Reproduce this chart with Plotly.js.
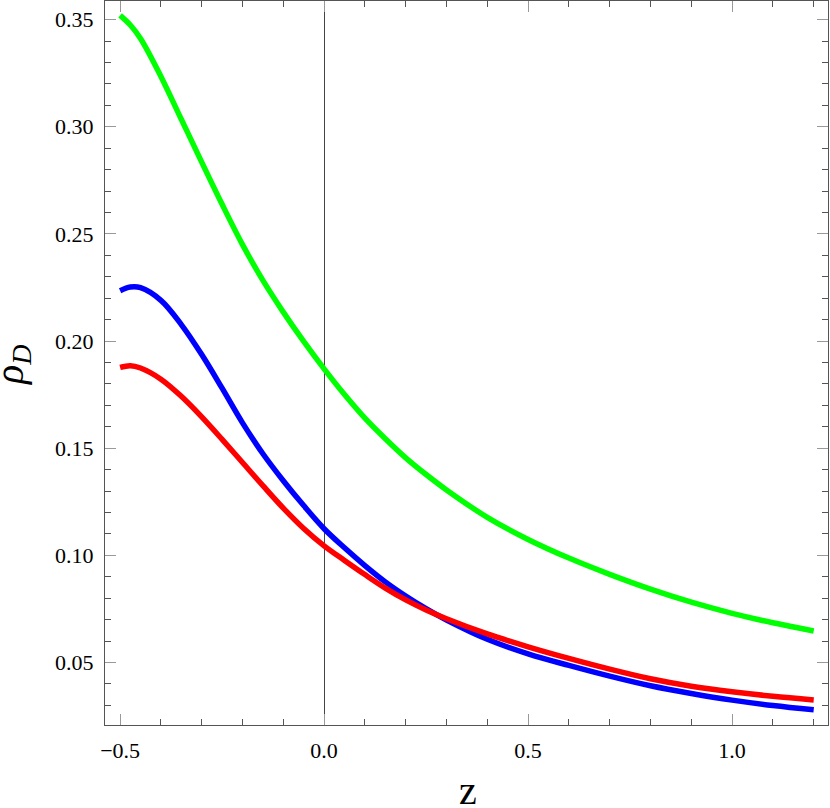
<!DOCTYPE html>
<html>
<head>
<meta charset="utf-8">
<script src="https://cdn.plot.ly/plotly-3.0.1.min.js"></script>
<style>
  html, body { margin: 0; padding: 0; background: #fff; }
  #plot { width: 830px; height: 808px; }
</style>
</head>
<body>
<div id="plot"></div>
<script>
// redshift grid, shared by the three curves
const z = [-0.5, -0.475, -0.45, -0.4, -0.35, -0.3, -0.25, -0.2, -0.15, -0.1, -0.05,
           0, 0.05, 0.1, 0.15, 0.2, 0.25, 0.3,
           0.4, 0.5, 0.6, 0.7, 0.8, 0.9, 1.0, 1.1, 1.2];

// rho_D values
const rhoGreen = [0.3520, 0.3475, 0.3412, 0.3235, 0.3035, 0.2835, 0.2638, 0.2450, 0.2283, 0.2135, 0.1998,
                  0.1870, 0.1750, 0.1640, 0.1544, 0.1455, 0.1377, 0.1305,
                  0.1177, 0.1074, 0.0987, 0.0911, 0.0842, 0.0781, 0.0729, 0.0685, 0.0647];
const rhoBlue  = [0.2235, 0.2252, 0.2249, 0.2190, 0.2077, 0.1937, 0.1780, 0.1618, 0.1474, 0.1348, 0.1232,
                  0.1124, 0.1035, 0.0952, 0.0876, 0.0810, 0.0751, 0.0698,
                  0.0608, 0.0540, 0.0486, 0.0436, 0.0391, 0.0355, 0.0324, 0.0299, 0.0279];
const rhoRed   = [0.1877, 0.1885, 0.1874, 0.1822, 0.1742, 0.1646, 0.1541, 0.1433, 0.1325, 0.1220, 0.1125,
                  0.1044, 0.0976, 0.0910, 0.0847, 0.0792, 0.0745, 0.0704,
                  0.0633, 0.0573, 0.0519, 0.0469, 0.0424, 0.0389, 0.0363, 0.0342, 0.0325];

const serif = "Liberation Serif, Times New Roman, serif";

function curve(y, color) {
    return {
        x: z, y: y,
        mode: 'lines',
        type: 'scatter',
        line: {color: color, width: 5.5, shape: 'spline', smoothing: 1},
        hoverinfo: 'skip',
        showlegend: false
    };
}

const data = [
    curve(rhoGreen, '#00ff00'),
    curve(rhoBlue, '#0000ff'),
    curve(rhoRed, '#ff0000')
];

const axisCommon = {
    showline: true,
    linecolor: '#555',
    linewidth: 1,
    mirror: 'allticks',
    showgrid: false,
    ticks: 'inside',
    ticklen: 11,
    tickcolor: '#999',
    tickwidth: 1,
    tickfont: {family: serif, size: 22, color: '#000'},
    ticklabelstandoff: 6
};

const layout = {
    width: 830,
    height: 808,
    margin: {l: 105, r: 2, t: 1, b: 83},
    paper_bgcolor: '#fff',
    plot_bgcolor: '#fff',
    xaxis: Object.assign({}, axisCommon, {
        range: [-0.537, 1.235],
        tick0: -0.5,
        dtick: 0.5,
        tickformat: '.1f',
        zeroline: true,
        zerolinecolor: '#444',
        zerolinewidth: 1,
        minor: {dtick: 0.1, ticklen: 6, tickcolor: '#555', ticks: 'inside'}
    }),
    yaxis: Object.assign({}, axisCommon, {
        range: [0.0208, 0.3587],
        tick0: 0.05,
        dtick: 0.05,
        tickformat: '.2f',
        zeroline: false,
        minor: {dtick: 0.01, ticklen: 6, tickcolor: '#555', ticks: 'inside'}
    }),
    // axis titles, placed where the reference has them
    annotations: [
        {text: 'z', xref: 'paper', yref: 'paper', x: 0.502, y: -0.09,
         xanchor: 'center', yanchor: 'middle', showarrow: false,
         font: {family: serif, size: 40, color: '#000'}},
        {text: '<i>ρ<sub>D</sub></i>', xref: 'paper', yref: 'paper', x: -0.129, y: 0.497,
         xanchor: 'center', yanchor: 'middle', textangle: -90, showarrow: false,
         font: {family: serif, size: 40, color: '#000'}}
    ]
};

Plotly.newPlot('plot', data, layout, {staticPlot: true});
</script>
</body>
</html>
